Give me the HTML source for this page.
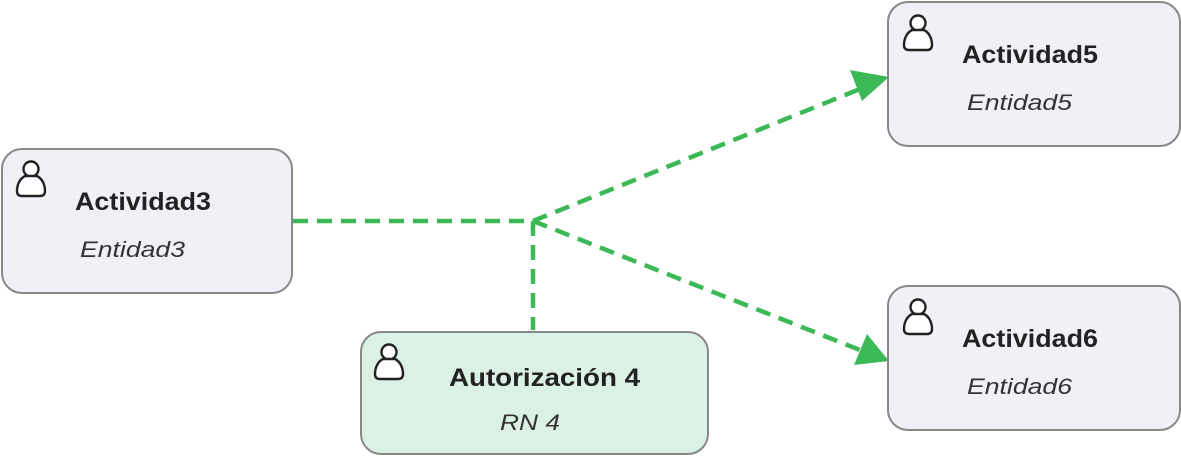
<!DOCTYPE html>
<html><head><meta charset="utf-8"><style>
html,body{margin:0;padding:0;background:#fff;}
svg{display:block;}
text{font-family:"Liberation Sans",Arial,sans-serif;fill:#222;}
.b{font-weight:bold;font-size:25px;}
.i{font-style:italic;font-size:22px;fill:#333;}
</style></head><body>
<svg width="1181" height="456" viewBox="0 0 1181 456" xmlns="http://www.w3.org/2000/svg">
<defs>
<g id="ic">
<circle cx="0" cy="0" r="7.5" fill="#fff" stroke="#222" stroke-width="2.4"/>
<path d="M-6,7 C-12,10 -14,17 -14,22 Q-14,27 -9,27 L9,27 Q14,27 14,22 C14,17 12,10 6,7 Z" fill="#fff" stroke="#222" stroke-width="2.4"/>
</g>
</defs>
<g fill="none" stroke="#3cb956" stroke-width="4.5" stroke-dasharray="15,9">
<path d="M293,221 L533,221"/>
<path d="M533,221 L533,330"/>
<path d="M533,221 L860,89"/>
<path d="M533,221 L860,350"/>
</g>
<path d="M889,77 L850,70 L862,101 Z" fill="#3cb956"/>
<path d="M889,361 L867,334 L854,365 Z" fill="#3cb956"/>

<rect x="2" y="149" width="290" height="144" rx="20" fill="#f0f0f7" stroke="#888" stroke-width="2"/>
<use href="#ic" x="31" y="169"/>
<text class="b" x="75" y="210" textLength="136" lengthAdjust="spacingAndGlyphs">Actividad3</text>
<text class="i" x="80" y="257" textLength="105" lengthAdjust="spacingAndGlyphs">Entidad3</text>

<rect x="888" y="2" width="292" height="144" rx="20" fill="#f0f0f7" stroke="#888" stroke-width="2"/>
<use href="#ic" x="918" y="23"/>
<text class="b" x="962" y="63" textLength="136" lengthAdjust="spacingAndGlyphs">Actividad5</text>
<text class="i" x="967" y="110" textLength="105" lengthAdjust="spacingAndGlyphs">Entidad5</text>

<rect x="888" y="286" width="292" height="144" rx="20" fill="#f0f0f7" stroke="#888" stroke-width="2"/>
<use href="#ic" x="918" y="307"/>
<text class="b" x="962" y="347" textLength="136" lengthAdjust="spacingAndGlyphs">Actividad6</text>
<text class="i" x="967" y="394" textLength="105" lengthAdjust="spacingAndGlyphs">Entidad6</text>

<rect x="361" y="332" width="347" height="122" rx="20" fill="#dbf1e5" stroke="#888" stroke-width="2"/>
<use href="#ic" x="389" y="352"/>
<text class="b" x="449" y="386" textLength="191" lengthAdjust="spacingAndGlyphs">Autorización 4</text>
<text class="i" x="500" y="430" textLength="60" lengthAdjust="spacingAndGlyphs">RN 4</text>
</svg>
</body></html>
